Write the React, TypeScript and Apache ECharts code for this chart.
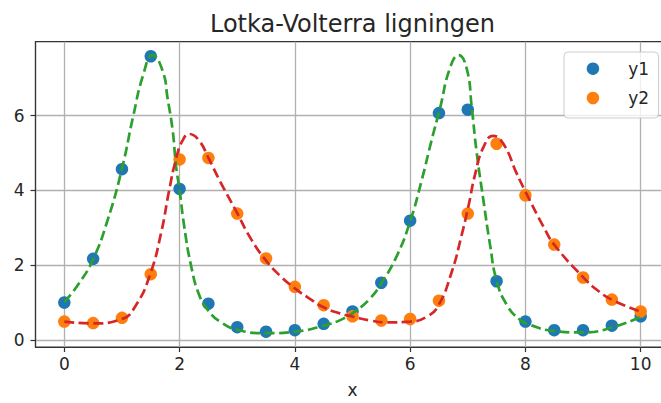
import React, { useEffect, useRef } from "react";
import * as echarts from "echarts";

const titleText = "Lotka-Volterra ligningen";
const xTicks = [0, 2, 4, 6, 8, 10];
const yTicks = [0, 2, 4, 6];

const xPoints = [0, 0.5, 1, 1.5, 2, 2.5, 3, 3.5, 4, 4.5, 5, 5.5, 6, 6.5, 7, 7.5, 8, 8.5, 9, 9.5, 10];
const y1Points = [1.0, 2.17, 4.57, 7.59, 4.04, 0.97, 0.34, 0.22, 0.26, 0.43, 0.76, 1.53, 3.19, 6.07, 6.16, 1.57, 0.49, 0.26, 0.26, 0.38, 0.63];
const y2Points = [0.49, 0.45, 0.59, 1.76, 4.83, 4.87, 3.38, 2.18, 1.42, 0.93, 0.63, 0.52, 0.56, 1.05, 3.38, 5.25, 3.87, 2.55, 1.67, 1.08, 0.76];

const fitX1 = [0, 0.25, 0.5, 0.75, 1.0, 1.19, 1.37, 1.53, 1.71, 1.79, 1.88, 1.94, 2.0, 2.08, 2.2, 2.34, 2.5, 2.7, 3.0, 3.5, 4.0, 4.5, 4.84, 5.07, 5.3, 5.51, 5.77, 6.0, 6.2, 6.37, 6.52, 6.69, 6.84, 6.98, 7.07, 7.15, 7.27, 7.39, 7.5, 7.68, 7.91, 8.08, 8.48, 9.0, 9.5, 10.0];
const fitY1 = [1.01, 1.5, 2.16, 3.2, 4.58, 5.95, 7.1, 7.62, 7.18, 6.48, 5.6, 4.63, 4.01, 3.04, 1.98, 1.2, 0.78, 0.49, 0.27, 0.18, 0.22, 0.38, 0.57, 0.79, 1.1, 1.54, 2.25, 3.17, 4.27, 5.33, 6.21, 7.27, 7.62, 7.27, 6.21, 5.07, 3.75, 2.51, 1.59, 0.93, 0.53, 0.4, 0.24, 0.2, 0.33, 0.62];

const fitX2 = [0, 0.5, 1.0, 1.24, 1.49, 1.68, 1.82, 1.94, 2.05, 2.17, 2.34, 2.5, 2.7, 3.0, 3.22, 3.48, 3.74, 4.0, 4.26, 4.49, 4.78, 5.01, 5.3, 5.6, 6.0, 6.29, 6.49, 6.72, 6.89, 7.01, 7.13, 7.27, 7.44, 7.62, 7.85, 8.0, 8.31, 8.5, 9.0, 9.29, 9.52, 10.0];
const fitY2 = [0.49, 0.44, 0.56, 0.92, 1.76, 2.87, 4.01, 4.85, 5.33, 5.51, 5.33, 4.87, 4.25, 3.39, 2.75, 2.16, 1.72, 1.38, 1.1, 0.88, 0.71, 0.62, 0.52, 0.47, 0.49, 0.62, 0.92, 1.81, 2.78, 3.57, 4.45, 5.15, 5.46, 5.24, 4.45, 3.97, 3.04, 2.55, 1.68, 1.28, 1.06, 0.75];

const FONT = "'DejaVu Sans', sans-serif";
const TEXT = "#262626";

export default function App() {
  const ref = useRef<HTMLDivElement>(null);
  useEffect(() => {
    if (!ref.current) return;
    const chart = echarts.init(ref.current, null, { renderer: "svg" });
    const pts1 = xPoints.map((x, i) => [x, y1Points[i]]);
    const pts2 = xPoints.map((x, i) => [x, y2Points[i]]);
    const fit1 = fitX1.map((x, i) => [x, fitY1[i]]);
    const fit2 = fitX2.map((x, i) => [x, fitY2[i]]);
    const dash = { type: [10, 4.5] as number[], width: 2.7 };
    chart.setOption({
      animation: false,
      backgroundColor: "#ffffff",
      textStyle: { fontFamily: FONT },
      graphic: [
        {
          type: "text",
          x: 352.5,
          y: 24,
          style: {
            text: titleText,
            fontFamily: FONT,
            fontSize: 24,
            fill: TEXT,
            align: "center",
            verticalAlign: "middle",
          },
        },
      ],
      legend: {
        data: ["y1", "y2"],
        orient: "vertical",
        left: 564,
        top: 52,
        padding: [6.7, 9.4, 10, 22.7],
        icon: "circle",
        itemWidth: 12.5,
        itemHeight: 12.5,
        itemGap: 9.3,
        backgroundColor: "rgba(255,255,255,0.8)",
        borderColor: "#cccccc",
        borderWidth: 1,
        borderRadius: 4,
        textStyle: {
          fontFamily: FONT,
          fontSize: 17,
          lineHeight: 20,
          color: TEXT,
          padding: [0, 0, 0, 24],
        },
      },
      grid: {
        left: 35.5,
        right: 10.5,
        top: 41.7,
        bottom: 52,
        show: true,
        borderColor: "#333333",
        borderWidth: 1.2,
        backgroundColor: "transparent",
      },
      xAxis: {
        type: "value",
        min: -0.5,
        max: 10.5,
        name: "x",
        nameLocation: "middle",
        nameGap: 34,
        nameTextStyle: { fontFamily: FONT, fontSize: 17, color: TEXT },
        axisLine: { show: true, onZero: false, lineStyle: { color: "#333333", width: 1.2 } },
        axisTick: { show: true, length: 5, customValues: xTicks, lineStyle: { color: "#333333", width: 1.2 } },
        axisLabel: { customValues: xTicks, margin: 8, fontFamily: FONT, fontSize: 17, color: TEXT },
        splitLine: { show: true, lineStyle: { color: "#b0b0b0", width: 1.3 } },
      },
      yAxis: {
        type: "value",
        min: -0.19,
        max: 7.98,
        axisLine: { show: true, onZero: false, lineStyle: { color: "#333333", width: 1.2 } },
        axisTick: { show: true, length: 5, customValues: yTicks, lineStyle: { color: "#333333", width: 1.2 } },
        axisLabel: { customValues: yTicks, margin: 11, fontFamily: FONT, fontSize: 17, color: TEXT },
        splitLine: { show: true, lineStyle: { color: "#b0b0b0", width: 1.3 } },
      },
      series: [
        {
          name: "y1",
          type: "scatter",
          data: pts1,
          symbol: "circle",
          symbolSize: 12.5,
          itemStyle: { color: "#1f77b4", opacity: 1 },
        },
        {
          name: "y2",
          type: "scatter",
          data: pts2,
          symbol: "circle",
          symbolSize: 12.5,
          itemStyle: { color: "#ff7f0e", opacity: 1 },
        },
        {
          name: "y1 fit",
          type: "line",
          data: fit1,
          showSymbol: false,
          smooth: 0.5,
          lineStyle: { color: "#2ca02c", ...dash },
        },
        {
          name: "y2 fit",
          type: "line",
          data: fit2,
          showSymbol: false,
          smooth: 0.5,
          lineStyle: { color: "#d62728", ...dash },
        },
      ],
    });
    return () => chart.dispose();
  }, []);
  return (
    <div
      style={{
        position: "fixed",
        left: 0,
        top: 0,
        width: 661,
        height: 403,
        overflow: "hidden",
        background: "#ffffff",
      }}
    >
      <div ref={ref} style={{ width: 680, height: 403 }} />
    </div>
  );
}
